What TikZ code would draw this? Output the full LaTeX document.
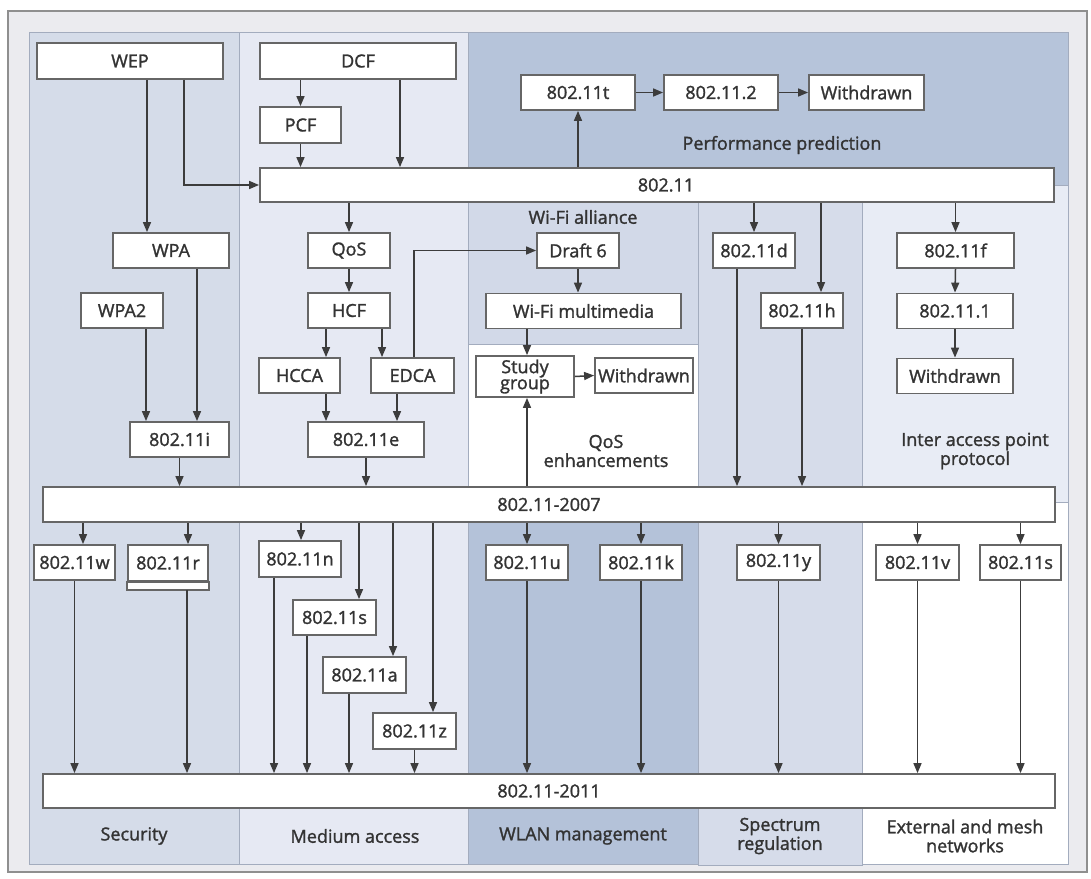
\documentclass[tikz,border=0pt]{standalone}
\usepackage{fontspec}
\setmainfont{Open Sans}[FakeBold=1.5]
\usetikzlibrary{arrows.meta}
\definecolor{framegray}{HTML}{8F8F8F}
\definecolor{framefill}{HTML}{EBEBEF}
\definecolor{regline}{HTML}{A3ACBE}
\definecolor{secfill}{HTML}{D5DCE9}
\definecolor{medfill}{HTML}{E6E9F3}
\definecolor{perffill}{HTML}{B6C4DA}
\definecolor{wfafill}{HTML}{D2D9E8}
\definecolor{wlanfill}{HTML}{B4C2D9}
\definecolor{specfill}{HTML}{D6DCEA}
\definecolor{iapfill}{HTML}{E8ECF5}
\definecolor{boxgray}{HTML}{666666}
\definecolor{arrgray}{HTML}{3C3C3C}
\definecolor{txtgray}{HTML}{333333}
\begin{document}
\begin{tikzpicture}[x=1pt,y=-1pt,
  blk/.style={draw=boxgray, line width=1.8pt, fill=white, inner sep=0pt, minimum height=35pt, font=\fontsize{18}{20}\selectfont, text=txtgray},
  lnk/.style={draw=arrgray, line width=1.5pt, -{Triangle[length=10pt,width=8pt]}},
  lbl/.style={font=\fontsize{18}{19}\selectfont, text=txtgray, align=center, inner sep=0pt}]
\useasboundingbox (0,0) rectangle (1091,878);
% frame and column areas
\draw[fill=framefill, draw=framegray, line width=1.5pt] (8,11) rectangle (1087,872);
\filldraw[fill=secfill, draw=regline, line width=0.8pt] (29,32) rectangle (239,864);
\filldraw[fill=medfill, draw=regline, line width=0.8pt] (239,32) rectangle (468,864);
\filldraw[fill=perffill, draw=regline, line width=0.8pt] (468,32) rectangle (1068,185);
\filldraw[fill=wfafill, draw=regline, line width=0.8pt] (468,185) rectangle (698,344);
\filldraw[fill=white, draw=regline, line width=0.8pt] (468,344) rectangle (698,505);
\filldraw[fill=wlanfill, draw=regline, line width=0.8pt] (468,505) rectangle (698,864);
\filldraw[fill=specfill, draw=regline, line width=0.8pt] (698,185) rectangle (862,865);
\filldraw[fill=iapfill, draw=regline, line width=0.8pt] (862,185) rectangle (1068,502);
\filldraw[fill=white, draw=regline, line width=0.8pt] (862,502) rectangle (1068,864);
% area labels
\node[lbl] (lperf) at (782,145) {Performance prediction};
\node[lbl] (lwfa) at (583,217) {Wi-Fi alliance};
\node[lbl] (lqose) at (606,451) {QoS\\enhancements};
\node[lbl] (liap) at (975,451) {Inter access point\\protocol};
\node[lbl] (lsec) at (134,836) {Security};
\node[lbl] (lmed) at (355,836) {Medium access};
\node[lbl] (lwlan) at (583,836) {WLAN management};
\node[lbl] (lspec) at (780,836) {Spectrum\\regulation};
\node[lbl] (lext) at (965,836) {External and mesh\\networks};
% blocks
\node[blk, minimum width=186pt, minimum height=36pt] (wep) at (130,61) {WEP};
\node[blk, minimum width=196pt, minimum height=36pt] (dcf) at (358,61) {DCF};
\node[blk, minimum width=81pt, minimum height=36pt] (pcf) at (300.5,125) {PCF};
\node[blk, minimum width=114pt] (t11) at (578,92.5) {802.11t};
\node[blk, minimum width=114pt] (p2) at (721,92.5) {802.11.2};
\node[blk, minimum width=115pt] (wdpp) at (866.5,92.5) {Withdrawn};
\node[blk, minimum width=794pt, minimum height=34pt] (std) at (657,185) {\hspace*{18pt}802.11};
\node[blk, minimum width=116pt] (wpa) at (171,250.5) {WPA};
\node[blk, minimum width=82pt] (qos) at (349,250.5) {QoS};
\node[blk, minimum width=82pt] (dr6) at (578,250.5) {Draft 6};
\node[blk, minimum width=82pt] (d11) at (754,250.5) {802.11d};
\node[blk, minimum width=117pt] (f11) at (955.5,250.5) {802.11f};
\node[blk, minimum width=82pt] (wpa2) at (122,310.5) {WPA2};
\node[blk, minimum width=82pt] (hcf) at (349,310.5) {HCF};
\node[blk, minimum width=195pt] (wfm) at (583.5,311) {Wi-Fi multimedia};
\node[blk, minimum width=82pt] (h11) at (802,310.5) {802.11h};
\node[blk, minimum width=116pt] (p1) at (955,311) {802.11.1};
\node[blk, minimum width=81pt] (hcca) at (299.5,375.5) {HCCA};
\node[blk, minimum width=83pt] (edca) at (412.5,375.5) {EDCA};
\node[blk, minimum width=98pt, minimum height=41pt, align=center, font=\fontsize{18}{16}\selectfont] (sgrp) at (525,376.5) {Study\\group};
\node[blk, minimum width=98pt] (wdqs) at (644,375.5) {Withdrawn};
\node[blk, minimum width=116pt] (wdap) at (955,376) {Withdrawn};
\node[blk, minimum width=99pt] (i11) at (179.5,439.5) {802.11i};
\node[blk, minimum width=116pt] (e11) at (366,439.5) {802.11e};
\node[blk, minimum width=1012pt] (s07) at (549,504.5) {802.11-2007};
\node[blk, minimum width=81pt] (w11) at (74.5,562.5) {802.11w};
\node[blk, minimum width=80pt, minimum height=36pt] (r11) at (168,563) {802.11r};
\draw[draw=boxgray, line width=1.8pt, fill=white] (r11.south west) rectangle ([yshift=-8pt]r11.south east);
\node[blk, minimum width=82pt, minimum height=36pt] (n11) at (300,559) {802.11n};
\node[blk, minimum width=82pt] (u11) at (527,562.5) {802.11u};
\node[blk, minimum width=82pt] (k11) at (641,562.5) {802.11k};
\node[blk, minimum width=83pt] (y11) at (778.5,562.5) {802.11y};
\node[blk, minimum width=83pt] (v11) at (917.5,562.5) {802.11v};
\node[blk, minimum width=81pt] (sx11) at (1020.5,562.5) {802.11s};
\node[blk, minimum width=83pt] (sm11) at (334.5,617.5) {802.11s};
\node[blk, minimum width=83pt, minimum height=36pt] (a11) at (364.5,675) {802.11a};
\node[blk, minimum width=83pt, minimum height=36pt] (z11) at (414.5,731) {802.11z};
\node[blk, minimum width=1012pt, minimum height=34pt] (s11) at (549,791) {802.11-2011};
% links into 802.11
\draw[lnk] (wep.south -| 147,0) -- (wpa.north -| 147,0);
\draw[lnk] (wep.south -| 184,0) |- (std.west);
\draw[lnk] (pcf.north |- dcf.south) -- (pcf.north);
\draw[lnk] (pcf.south) -- (pcf.south |- std.north);
\draw[lnk] (dcf.south -| 400,0) -- (std.north -| 400,0);
\draw[lnk] (std.north -| t11.south) -- (t11.south);
\draw[lnk] (t11.east) -- (p2.west);
\draw[lnk] (p2.east) -- (wdpp.west);
% links from 802.11
\draw[lnk] (qos.north |- std.south) -- (qos.north);
\draw[lnk] (d11.north |- std.south) -- (d11.north);
\draw[lnk] (std.south -| 821,0) -- (h11.north -| 821,0);
\draw[lnk] (f11.north |- std.south) -- (f11.north);
\draw[lnk] (f11.south) -- (p1.north);
\draw[lnk] (p1.south) -- (wdap.north);
\draw[lnk] (wpa.south -| 197,0) -- (i11.north -| 197,0);
\draw[lnk] (wpa2.south -| 146,0) -- (i11.north -| 146,0);
\draw[lnk] (qos.south) -- (hcf.north);
\draw[lnk] (hcf.south -| 326,0) -- (hcca.north -| 326,0);
\draw[lnk] (hcf.south -| 382,0) -- (edca.north -| 382,0);
\draw[lnk] (hcca.south -| 326,0) -- (e11.north -| 326,0);
\draw[lnk] (edca.south -| 397,0) -- (e11.north -| 397,0);
\draw[lnk] (edca.north -| 414,0) |- (dr6.west);
\draw[lnk] (dr6.south) -- (dr6.south |- wfm.north);
\draw[lnk] (wfm.south -| 527,0) -- (sgrp.north -| 527,0);
\draw[lnk] (sgrp.east) -- (wdqs.west);
% links into 802.11-2007
\draw[lnk] (i11.south) -- (i11.south |- s07.north);
\draw[lnk] (e11.south) -- (e11.south |- s07.north);
\draw[lnk] (s07.north -| 527,0) -- (sgrp.south -| 527,0);
\draw[lnk] (d11.south -| 737,0) -- (s07.north -| 737,0);
\draw[lnk] (h11.south) -- (h11.south |- s07.north);
% links from 802.11-2007
\draw[lnk] (s07.south -| 83,0) -- (w11.north -| 83,0);
\draw[lnk] (s07.south -| 188,0) -- (r11.north -| 188,0);
\draw[lnk] (s07.south -| 301,0) -- (n11.north -| 301,0);
\draw[lnk] (s07.south -| 359,0) -- (sm11.north -| 359,0);
\draw[lnk] (s07.south -| 393,0) -- (a11.north -| 393,0);
\draw[lnk] (s07.south -| 433,0) -- (z11.north -| 433,0);
\draw[lnk] (s07.south -| u11.north) -- (u11.north);
\draw[lnk] (s07.south -| k11.north) -- (k11.north);
\draw[lnk] (s07.south -| y11.north) -- (y11.north);
\draw[lnk] (s07.south -| v11.north) -- (v11.north);
\draw[lnk] (s07.south -| sx11.north) -- (sx11.north);
% links into 802.11-2011
\draw[lnk] (w11.south) -- (w11.south |- s11.north);
\draw[lnk] ([yshift=-8pt]r11.south -| 187,0) -- (s11.north -| 187,0);
\draw[lnk] (n11.south -| 274,0) -- (s11.north -| 274,0);
\draw[lnk] (sm11.south -| 307,0) -- (s11.north -| 307,0);
\draw[lnk] (a11.south -| 349,0) -- (s11.north -| 349,0);
\draw[lnk] (z11.south) -- (z11.south |- s11.north);
\draw[lnk] (u11.south) -- (u11.south |- s11.north);
\draw[lnk] (k11.south) -- (k11.south |- s11.north);
\draw[lnk] (y11.south) -- (y11.south |- s11.north);
\draw[lnk] (v11.south) -- (v11.south |- s11.north);
\draw[lnk] (sx11.south) -- (sx11.south |- s11.north);
\end{tikzpicture}
\end{document}
